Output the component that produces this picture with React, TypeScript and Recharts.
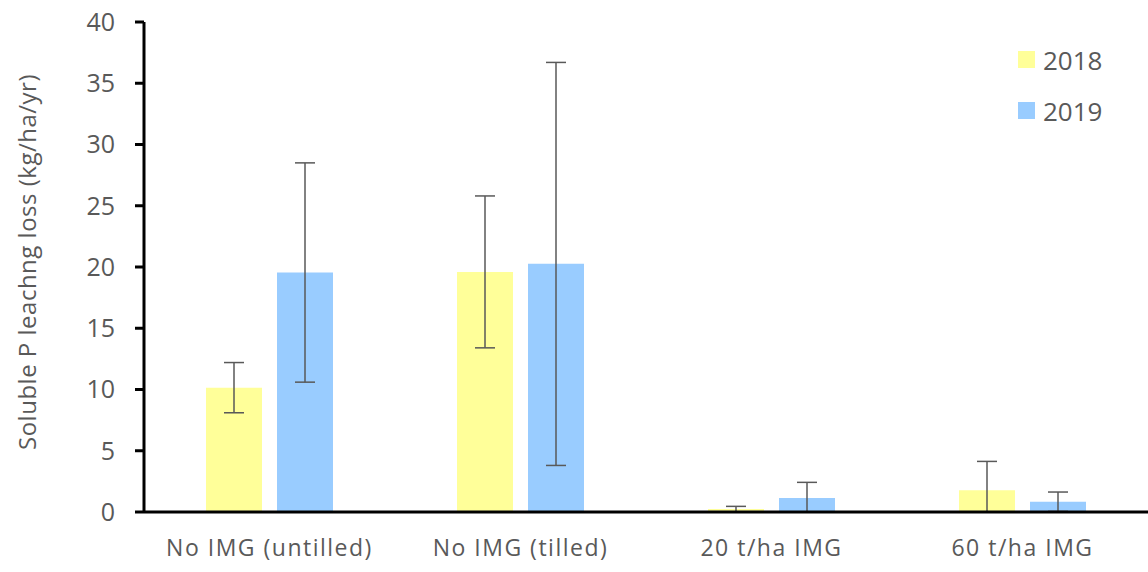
import React from 'react';
import { BarChart, Bar, XAxis, YAxis, ErrorBar, Label } from 'recharts';

const categories = ['No IMG (untilled)', 'No IMG (tilled)', '20 t/ha IMG', '60 t/ha IMG'];

// means and error bar ends (kg/ha/yr)
const mean2018 = [10.15, 19.6, 0.24, 1.77];
const low2018 = [8.1, 13.4, 0, 0];
const high2018 = [12.2, 25.8, 0.46, 4.13];

const mean2019 = [19.56, 20.27, 1.14, 0.84];
const low2019 = [10.6, 3.8, 0, 0.05];
const high2019 = [28.5, 36.7, 2.42, 1.63];

const yTicks = [0, 5, 10, 15, 20, 25, 30, 35, 40];

const COLOR_2018 = '#FFFF99';
const COLOR_2019 = '#99CCFF';
const TEXT = '#595959';
const FONT = '"Open Sans", sans-serif';

const data = categories.map((name, i) => ({
  name,
  y2018: mean2018[i],
  err2018: [mean2018[i] - low2018[i], high2018[i] - mean2018[i]],
  y2019: mean2019[i],
  err2019: [mean2019[i] - low2019[i], high2019[i] - mean2019[i]],
}));

const legendItems = [
  { label: '2018', color: COLOR_2018 },
  { label: '2019', color: COLOR_2019 },
];

// legend drawn as an overlay so it doesn't shrink the plot area
const LegendBox = () => (
  <div style={{ position: 'absolute', left: 1018, top: 34, fontFamily: FONT }}>
    {legendItems.map((it) => (
      <div key={it.label} style={{ display: 'flex', alignItems: 'center', height: 51 }}>
        <span style={{ width: 17, height: 17, background: it.color, display: 'inline-block', marginRight: 8 }} />
        <span style={{ fontSize: 26, color: TEXT }}>{it.label}</span>
      </div>
    ))}
  </div>
);

const YTitle = (props: any) => {
  const vb = props.viewBox || { x: 0, y: 0, height: 0 };
  const cx = vb.x + 26;
  const cy = vb.y + vb.height / 2 - 5;
  return (
    <text
      x={cx}
      y={cy}
      transform={`rotate(-90 ${cx} ${cy})`}
      textAnchor="middle"
      dominantBaseline="central"
      fill={TEXT}
      fontSize={24}
      fontFamily={FONT}
      letterSpacing={0.5}
    >
      Soluble P leachng loss (kg/ha/yr)
    </text>
  );
};

export default function App() {
  return (
    <div style={{ position: 'absolute', left: 0, top: 0, width: 1148, height: 572, background: '#fff' }}>
      <BarChart
        width={1148}
        height={572}
        data={data}
        margin={{ top: 22, right: 0, bottom: 0, left: 0 }}
        barSize={56}
        barGap={15}
      >
        <XAxis
          dataKey="name"
          height={60}
          axisLine={{ stroke: '#000', strokeWidth: 3 }}
          tickLine={false}
          tickSize={0}
          tickMargin={28}
          interval={0}
          tick={{ fill: TEXT, fontSize: 23, fontFamily: FONT, letterSpacing: 1.5 }}
        />
        <YAxis
          width={144}
          domain={[0, 40]}
          ticks={yTicks}
          interval={0}
          axisLine={{ stroke: '#000', strokeWidth: 3 }}
          tickLine={{ stroke: '#000', strokeWidth: 3 }}
          tickSize={9}
          tickMargin={20}
          tick={{ fill: TEXT, fontSize: 25, fontFamily: FONT }}
        >
          <Label content={<YTitle />} />
        </YAxis>
        <Bar dataKey="y2018" fill={COLOR_2018} isAnimationActive={false}>
          <ErrorBar dataKey="err2018" direction="y" width={10} stroke="#595959" strokeWidth={1.5} isAnimationActive={false} />
        </Bar>
        <Bar dataKey="y2019" fill={COLOR_2019} isAnimationActive={false}>
          <ErrorBar dataKey="err2019" direction="y" width={10} stroke="#595959" strokeWidth={1.5} isAnimationActive={false} />
        </Bar>
      </BarChart>
      <LegendBox />
    </div>
  );
}
